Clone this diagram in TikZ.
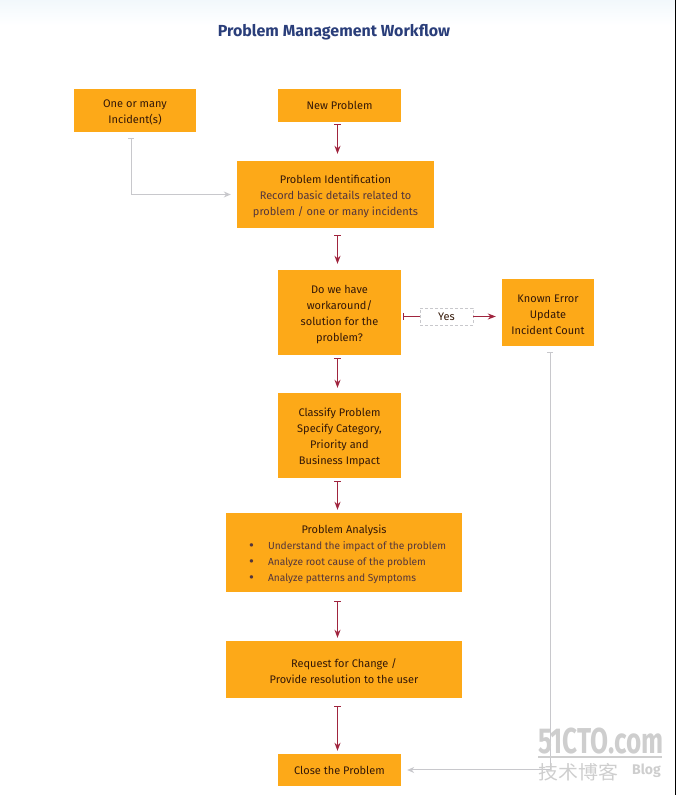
\documentclass[tikz,border=0pt]{standalone}
\usepackage{fontspec}
\setmainfont{Fira Sans}
\newfontfamily\cjkfont{Noto Sans CJK SC}
\usetikzlibrary{arrows.meta,shadings}
\definecolor{boxColor}{RGB}{253,169,24}
\definecolor{headColor}{RGB}{52,24,8}
\definecolor{bodyColor}{RGB}{84,54,60}
\definecolor{titleColor}{RGB}{42,62,122}
\definecolor{flowColor}{RGB}{160,36,62}
\definecolor{sideColor}{RGB}{200,200,204}
\definecolor{markColor}{RGB}{206,206,206}
\definecolor{skyColor}{RGB}{242,248,252}
\tikzset{
  stepbox/.style={fill=boxColor,text=headColor,align=center,inner sep=0pt,font=\fontsize{11}{16}\selectfont},
  flowline/.style={draw=flowColor,line width=1pt,{Bar[width=7pt,length=1pt]}-{Stealth[length=8pt,width=6pt]}},
  sideline/.style={draw=sideColor,line width=1pt,{Bar[width=6pt,length=1pt]}-{Stealth[length=7pt,width=6pt]},shorten <=6pt,shorten >=6pt},
  markfont/.style={text=markColor,inner sep=0pt,anchor=base west}
}
\newcommand{\topgap}{\rule{0pt}{12pt}}
\newcommand{\bodyline}[1]{\textcolor{bodyColor}{#1}}
\newcommand{\dotline}[1]{\makebox[212pt][l]{\hspace*{11pt}\makebox[19pt][l]{\textcolor{bodyColor}{\fontsize{15}{16}\selectfont\raisebox{-1pt}{\textbullet}}}\textcolor{bodyColor}{\fontsize{10.2}{16}\selectfont #1}}}
\begin{document}
\begin{tikzpicture}[x=1pt,y=1pt]
\useasboundingbox (0,0) rectangle (676,795);
\shade[top color=skyColor,bottom color=white] (0,770) rectangle (676,795);
\path[draw=black,line width=1pt] (675.5,0) -- (675.5,795);

\node[text=titleColor,font=\fontsize{16}{18}\selectfont\bfseries] (title) at (334,762.5) {Problem Management Workflow};

% boxes
\node[stepbox,minimum width=122pt,minimum height=43pt] (incident) at (135,684.5) {\topgap One or many\\Incident(s)};
\node[stepbox,minimum width=123pt,minimum height=33pt] (newproblem) at (339.5,689.5) {New Problem};
\node[stepbox,minimum width=197pt,minimum height=67pt] (identify) at (335.5,600.5) {\topgap Problem Identification\\\bodyline{Record basic details related to}\\\bodyline{problem / one or many incidents}};
\node[stepbox,minimum width=123pt,minimum height=85pt] (question) at (339.5,482.5) {\topgap Do we have\\workaround/\\solution for the\\problem?};
\node[stepbox,minimum width=92pt,minimum height=67pt] (known) at (548,482.5) {\topgap Known Error\\Update\\Incident Count};
\node[stepbox,minimum width=123pt,minimum height=85pt] (classify) at (339.5,359.5) {\topgap Classify Problem\\Specify Category,\\Priority and\\Business Impact};
\node[stepbox,minimum width=236pt,minimum height=79pt] (analysis) at (344,242.5) {\topgap Problem Analysis\\\dotline{Understand the impact of the problem}\\\dotline{Analyze root cause of the problem}\\\dotline{Analyze patterns and Symptoms}};
\node[stepbox,minimum width=236pt,minimum height=57pt] (change) at (344,125.5) {\topgap Request for Change /\\Provide resolution to the user};
\node[stepbox,minimum width=123pt,minimum height=32pt] (close) at (339.5,25) {Close the Problem};
\node[draw=sideColor,densely dashed,line width=0.5pt,text=headColor,font=\fontsize{11}{16}\selectfont,minimum width=53pt,minimum height=17pt,inner sep=0pt] (yes) at (446.5,478.5) {Yes};

% main flow
\coordinate (spine) at (337.5,0);
\draw[flowline,shorten <=2pt,shorten >=7pt] (newproblem.south -| spine) -- (identify.north -| spine);
\draw[flowline,shorten <=7pt,shorten >=6pt] (identify.south -| spine) -- (question.north -| spine);
\draw[flowline,shorten <=3pt,shorten >=5pt] (question.south -| spine) -- (classify.north -| spine);
\draw[flowline,shorten <=3pt,shorten >=3pt] (classify.south -| spine) -- (analysis.north -| spine);
\draw[flowline,shorten <=9pt,shorten >=3pt] (analysis.south -| spine) -- (change.north -| spine);
\draw[flowline,shorten <=8pt,shorten >=3pt] (change.south -| spine) -- (close.north -| spine);

% yes branch
\draw[draw=flowColor,line width=1pt,{Bar[width=7pt,length=1pt]}-,shorten <=2pt] (question.east |- yes) -- (yes.west);
\draw[draw=flowColor,line width=1pt,-{Stealth[length=8pt,width=6pt]},shorten >=6pt] (yes.east) -- (known.west |- yes);

% side lines
\draw[sideline] ([xshift=-4pt]incident.south) |- (identify.west);
\draw[sideline] ([xshift=2pt]known.south) |- (close.east);

% watermark
\node[markfont,font=\fontsize{36}{36}\selectfont\bfseries,xscale=0.725,transform shape] (markname) at (538,41.5) {51CTO.com};
\draw[draw=markColor,line width=1.2pt] (538,38) -- (662,38);
\node[markfont,font=\fontsize{19}{19}\selectfont\cjkfont,xscale=1.05,transform shape] (markcn) at (538,16) {技术博客};
\node[markfont,font=\fontsize{14}{14}\selectfont\bfseries] (markblog) at (632,20) {Blog};
\end{tikzpicture}
\end{document}
